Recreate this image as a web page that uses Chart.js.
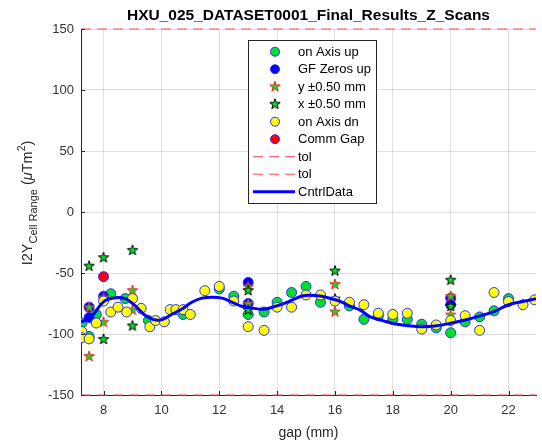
<!DOCTYPE html>
<html>
<head>
<meta charset="utf-8">
<script src="https://cdn.jsdelivr.net/npm/chart.js@4.4.0/dist/chart.umd.min.js"></script>
<style>
  html, body { margin: 0; padding: 0; background: #fff; }
</style>
</head>
<body>
<canvas id="zscan" width="542" height="444"></canvas>
<script>
// gap (mm) / I2Y values
var upX = [7.25, 7.5, 7.75, 8.25, 8.75, 9.55, 10.75, 12.0, 12.5, 13.0, 13.55, 14.0, 14.5, 15.0, 15.5, 16.5, 17.0, 17.5, 18.0, 18.5, 19.0, 19.5, 20.0, 20.5, 21.0, 21.5, 22.0];
var upY = [-91, -102, -84, -67, -71, -89, -84, -63, -69, -84, -82, -74, -66, -61, -74, -77, -88, -85, -88, -88, -92, -95, -99, -90, -86, -81, -71];

var gfX = [7.5, 7.5, 8.0, 13.0, 13.0, 20.0, 20.0];
var gfY = [-86.5, -78, -69, -57.7, -75, -70.6, -76];

var yStarX = [7.5, 7.5, 8.0, 8.0, 9.0, 9.0, 13.0, 13.0, 16.0, 16.0, 20.0, 20.0];
var yStarY = [-78, -118, -90, -70, -64, -80, -61, -75, -59, -81.5, -68.7, -84];

var xStarX = [7.5, 8.0, 8.0, 9.0, 9.0, 13.0, 13.0, 16.0, 16.0, 20.0, 20.0];
var xStarY = [-44, -37, -104, -31, -93, -64, -80, -48, -71, -55.5, -77];

var dnX = [7.25, 7.25, 7.5, 7.75, 8.0, 8.25, 8.5, 8.8, 9.0, 9.3, 9.6, 9.8, 10.1, 10.3, 10.5, 10.75, 11.0, 11.5, 12.0, 12.5, 13.0, 13.55, 14.0, 14.5, 15.0, 15.5, 16.0, 16.5, 17.0, 17.5, 18.0, 18.5, 19.0, 19.5, 20.0, 20.5, 21.0, 21.5, 22.0, 22.5, 22.9];
var dnY = [-98, -103, -104, -91, -73, -82, -78, -82, -71, -79, -94, -89, -90, -80, -80, -80, -84, -64.5, -61, -73, -94, -97, -78, -78, -68, -68, -73, -74, -76, -83, -84, -83, -96, -92.6, -89, -85, -97, -66, -73.4, -76, -72];

var commX = [8.0];
var commY = [-53];

var tolX = [7.22, 22.95];
var tolHi = [150, 150];
var tolLo = [-150, -150];

var ctrlX = [7.22, 7.45, 7.65, 7.9, 8.1, 8.5, 8.8, 9.1, 9.4, 9.7, 10.0, 10.35, 10.7, 11.05, 11.4, 11.75, 12.1, 12.45, 12.8, 13.15, 13.5, 13.8, 14.3, 14.9, 15.4, 15.8, 16.2, 16.5, 16.9, 17.2, 17.65, 18.1, 18.55, 19.0, 19.45, 20.0, 20.5, 21.0, 21.5, 22.0, 22.5, 22.95];
var ctrlY = [-90, -88, -84, -76, -72, -70, -71.5, -77, -84, -88, -88.4, -84, -79.7, -74, -70.6, -69.8, -70.6, -74, -77.5, -78.8, -79.7, -78.3, -74.5, -68.7, -68.7, -70.6, -73.4, -77, -80.8, -85.7, -89, -91.8, -93.2, -94, -93.4, -91.2, -88.5, -85.2, -81.6, -76, -73.4, -71];

var xTicks = [8, 10, 12, 14, 16, 18, 20, 22];
var legendNames = ['on Axis up', 'GF Zeros up', 'y \u00b10.50 mm', 'x \u00b10.50 mm', 'on Axis dn', 'Comm Gap', 'tol', 'tol', 'CntrlData'];

var FONT = '"Liberation Sans", Arial, Helvetica, sans-serif';
var GREEN = 'rgb(0,225,40)';
var EDGE = 'rgb(45,45,255)';

function pts(xs, ys) {
  return xs.map(function (x, i) { return { x: x, y: ys[i] }; });
}

function drawStar(g, cx, cy, r, stroke) {
  g.beginPath();
  for (var k = 0; k < 10; k++) {
    var rr = k % 2 ? r * 0.4 : r;
    var a = -Math.PI / 2 + k * Math.PI / 5;
    g.lineTo(cx + rr * Math.cos(a), cy + rr * Math.sin(a));
  }
  g.closePath();
  g.fillStyle = GREEN;
  g.fill();
  g.strokeStyle = stroke;
  g.lineWidth = 1;
  g.stroke();
}

function starImage(stroke) {
  var c = document.createElement('canvas');
  c.width = 14; c.height = 14;
  drawStar(c.getContext('2d'), 7, 7.5, 5.5, stroke);
  return c;
}

function circleSet(label, xs, ys, fill, order) {
  return {
    label: label, data: pts(xs, ys), order: order,
    pointRadius: 5, pointBackgroundColor: fill, pointBorderColor: EDGE, pointBorderWidth: 1
  };
}

var datasets = [
  circleSet(legendNames[0], upX, upY, GREEN, 8),
  circleSet(legendNames[1], gfX, gfY, 'rgb(0,0,255)', 7),
  { label: legendNames[2], data: pts(yStarX, yStarY), order: 6, pointStyle: starImage('rgb(255,30,30)') },
  { label: legendNames[3], data: pts(xStarX, xStarY), order: 5, pointStyle: starImage('#000') },
  circleSet(legendNames[4], dnX, dnY, 'rgb(255,255,0)', 4),
  circleSet(legendNames[5], commX, commY, 'rgb(255,0,0)', 3),
  { label: legendNames[6], data: pts(tolX, tolHi), order: 2, showLine: true, pointRadius: 0,
    borderColor: 'rgb(255,70,70)', borderWidth: 1, borderDash: [10, 6], clip: 3 },
  { label: legendNames[7], data: pts(tolX, tolLo), order: 1, showLine: true, pointRadius: 0,
    borderColor: 'rgb(255,70,70)', borderWidth: 1, borderDash: [10, 6], clip: 3 },
  { label: legendNames[8], data: pts(ctrlX, ctrlY), order: 0, showLine: true, pointRadius: 0,
    borderColor: 'rgb(0,0,255)', borderWidth: 3, tension: 0.4 }
];

// title, axis labels, inner ticks and the boxed legend
var decor = {
  id: 'decor',
  afterDraw: function (chart) {
    var ctx = chart.ctx, a = chart.chartArea;
    var xs = chart.scales.x, ys = chart.scales.y;
    ctx.save();

    // inner tick marks
    ctx.strokeStyle = '#262626';
    ctx.lineWidth = 1;
    ctx.beginPath();
    xTicks.forEach(function (v) {
      var px = Math.round(xs.getPixelForValue(v)) + 0.5;
      ctx.moveTo(px, a.bottom); ctx.lineTo(px, a.bottom - 4);
    });
    ys.ticks.forEach(function (t) {
      var py = Math.round(ys.getPixelForValue(t.value)) + 0.5;
      ctx.moveTo(a.left, py); ctx.lineTo(a.left + 4, py);
    });
    ctx.stroke();

    // title
    ctx.fillStyle = '#000';
    ctx.font = 'bold 15.5px ' + FONT;
    ctx.textAlign = 'center';
    ctx.textBaseline = 'middle';
    ctx.fillText('HXU_025_DATASET0001_Final_Results_Z_Scans', (a.left + a.right) / 2, 16);

    // x label
    ctx.fillStyle = '#262626';
    ctx.font = '14px ' + FONT;
    ctx.fillText('gap (mm)', (a.left + a.right) / 2, 433);

    // y label with subscript / superscript
    var segs = [
      { t: 'I2Y', f: '14.5px ', dy: 0 },
      { t: 'Cell Range', f: '11px ', dy: 5 },
      { t: ' (', f: '14.5px ', dy: 0 },
      { t: '\u03bc', f: 'italic 14.5px ', dy: 0 },
      { t: 'Tm', f: '14.5px ', dy: 0 },
      { t: '2', f: '10.5px ', dy: -7 },
      { t: ')', f: '14.5px ', dy: 0 }
    ];
    var total = 0;
    segs.forEach(function (s) { ctx.font = s.f + FONT; s.w = ctx.measureText(s.t).width; total += s.w; });
    ctx.translate(32, 203);
    ctx.rotate(-Math.PI / 2);
    ctx.textAlign = 'left';
    ctx.textBaseline = 'alphabetic';
    var cx = -total / 2;
    segs.forEach(function (s) { ctx.font = s.f + FONT; ctx.fillText(s.t, cx, s.dy); cx += s.w; });
    ctx.setTransform(1, 0, 0, 1, 0, 0);

    // legend box
    var bx = 248, by = 40, bw = 128, bh = 163;
    ctx.fillStyle = '#fff';
    ctx.fillRect(bx, by, bw, bh);
    ctx.strokeStyle = '#262626';
    ctx.lineWidth = 1;
    ctx.strokeRect(bx + 0.5, by + 0.5, bw, bh);
    ctx.font = '13px ' + FONT;
    ctx.textAlign = 'left';
    ctx.textBaseline = 'middle';
    chart.data.datasets.forEach(function (ds, i) {
      var y = 51.7 + i * 17.5;
      var sx = 275;
      if (ds.showLine) {
        ctx.save();
        ctx.strokeStyle = ds.borderColor;
        ctx.lineWidth = ds.borderWidth;
        ctx.setLineDash(ds.borderDash || []);
        ctx.beginPath();
        ctx.moveTo(253, y); ctx.lineTo(295, y);
        ctx.stroke();
        ctx.restore();
      } else if (ds.pointStyle) {
        ctx.drawImage(ds.pointStyle, sx - 7, y - 7.5);
      } else {
        ctx.beginPath();
        ctx.arc(sx, y, 4.5, 0, Math.PI * 2);
        ctx.fillStyle = ds.pointBackgroundColor;
        ctx.fill();
        ctx.strokeStyle = EDGE;
        ctx.stroke();
      }
      ctx.fillStyle = '#000';
      ctx.fillText(ds.label, 298, y + 0.5);
    });
    ctx.restore();
  }
};

var ctx = document.getElementById('zscan');

var zChart = new Chart(ctx, {
  type: 'scatter',
  data: { datasets: datasets },
  plugins: [decor],
  options: {
    responsive: false,
    animation: false,
    devicePixelRatio: 1,
    layout: { padding: { top: 29, left: 0, right: 0, bottom: 0 } },
    scales: {
      x: {
        min: 7.22, max: 22.95,
        afterBuildTicks: function (s) { s.ticks = xTicks.map(function (v) { return { value: v }; }); },
        afterFit: function (s) { s.height = 49; },
        grid: { color: 'rgba(0,0,0,0.12)', drawTicks: false },
        border: { color: '#262626', width: 1 },
        ticks: { padding: 8, color: '#333', font: { family: FONT, size: 13 } }
      },
      y: {
        min: -150, max: 150,
        afterFit: function (s) { s.width = 81; },
        grid: { color: 'rgba(0,0,0,0.12)', drawTicks: false },
        border: { color: '#262626', width: 1 },
        ticks: { stepSize: 50, padding: 7, color: '#333', font: { family: FONT, size: 13 } }
      }
    },
    plugins: {
      legend: { display: false },
      tooltip: { enabled: false },
      title: { display: false }
    }
  }
});
</script>
</body>
</html>
